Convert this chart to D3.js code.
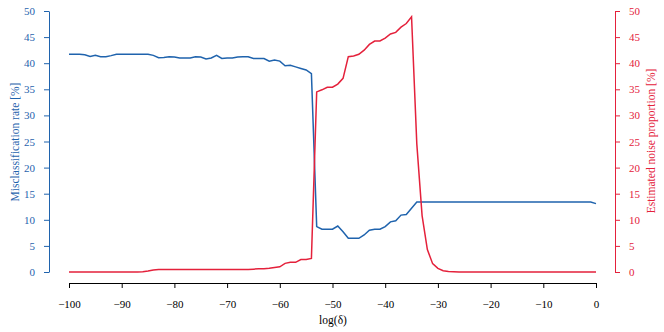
<!DOCTYPE html>
<html lang="en">
<head>
<meta charset="UTF-8">
<title>Misclassification vs noise</title>
<script src="https://d3js.org/d3.v7.min.js"></script>
<style>
	body { margin: 0; background: #fff; }
	svg text { font-family: "Liberation Serif", "DejaVu Serif", serif; }
</style>
</head>
<body>
<svg id="chart" width="664" height="332"></svg>
<script>
// x values: log(delta) from -100 to 0
const logDelta = d3.range(-100, 1, 1);

// misclassification rate [%], one value per logDelta
const misclassRate = [
	41.7, 41.7, 41.7, 41.6, 41.3, 41.5, 41.25, 41.25, 41.45, 41.7,
	41.7, 41.7, 41.7, 41.7, 41.7, 41.7, 41.5, 41.05, 41.1, 41.25,
	41.2, 41.0, 41.0, 41.0, 41.25, 41.2, 40.8, 41.0, 41.5, 40.9,
	41.0, 41.0, 41.2, 41.25, 41.25, 40.9, 40.9, 40.9, 40.4, 40.6,
	40.4, 39.5, 39.6, 39.3, 39.0, 38.7, 38.0, 8.7, 8.2, 8.2,
	8.2, 8.8, 7.7, 6.45, 6.45, 6.45, 7.1, 8.0, 8.2, 8.2,
	8.7, 9.6, 9.8, 10.9, 11.0, 12.2, 13.4, 13.4, 13.4, 13.4,
	13.4, 13.4, 13.4, 13.4, 13.4, 13.4, 13.4, 13.4, 13.4, 13.4,
	13.4, 13.4, 13.4, 13.4, 13.4, 13.4, 13.4, 13.4, 13.4, 13.4,
	13.4, 13.4, 13.4, 13.4, 13.4, 13.4, 13.4, 13.4, 13.4, 13.4,
	13.1
];

// estimated noise proportion [%]
const noiseProp = [
	0, 0, 0, 0, 0, 0, 0, 0, 0, 0,
	0, 0, 0, 0, 0.05, 0.2, 0.4, 0.5, 0.5, 0.5,
	0.5, 0.5, 0.5, 0.5, 0.5, 0.5, 0.5, 0.5, 0.5, 0.5,
	0.5, 0.5, 0.5, 0.5, 0.5, 0.55, 0.6, 0.6, 0.7, 0.85,
	1.0, 1.65, 1.85, 1.85, 2.4, 2.4, 2.6, 34.5, 34.9, 35.4,
	35.4, 36.0, 37.1, 41.25, 41.4, 41.7, 42.5, 43.6, 44.25, 44.25,
	44.8, 45.6, 45.9, 46.9, 47.6, 48.9, 24.5, 10.8, 4.3, 1.6,
	0.7, 0.25, 0.1, 0.05, 0, 0, 0, 0, 0, 0,
	0, 0, 0, 0, 0, 0, 0, 0, 0, 0,
	0, 0, 0, 0, 0, 0, 0, 0, 0, 0,
	0
];

const xTicks = [-100, -90, -80, -70, -60, -50, -40, -30, -20, -10, 0];
const yTicks = [0, 5, 10, 15, 20, 25, 30, 35, 40, 45, 50];

const blue = "#1f63ad";
const red = "#e4213b";

const svg = d3.select("#chart");

const x = d3.scaleLinear().domain([-100, 0]).range([69, 596]);
const yL = d3.scaleLinear().domain([0, 50]).range([272, 11]);
const yR = d3.scaleLinear().domain([0, 50]).range([272, 11]);

const fmt = d => d < 0 ? "\u2212" + Math.abs(d) : String(d);

// x axis
const gx = svg.append("g")
	.attr("transform", "translate(0,283)")
	.call(d3.axisBottom(x).tickValues(xTicks).tickSize(5).tickSizeOuter(0).tickPadding(12).tickFormat(fmt));
gx.select(".domain").attr("stroke", "#000");
gx.selectAll("text").attr("font-size", 11).attr("fill", "#000").attr("font-family", "Liberation Serif, serif");

// left axis
const gl = svg.append("g")
	.attr("transform", "translate(49,0)")
	.call(d3.axisLeft(yL).tickValues(yTicks).tickSize(5).tickSizeOuter(0).tickPadding(9));
gl.selectAll("path, line").attr("stroke", blue);
gl.selectAll("text").attr("font-size", 11).attr("fill", blue).attr("font-family", "Liberation Serif, serif");

// right axis
const gr = svg.append("g")
	.attr("transform", "translate(615,0)")
	.call(d3.axisRight(yR).tickValues(yTicks).tickSize(5).tickSizeOuter(0).tickPadding(9));
gr.selectAll("path, line").attr("stroke", red);
gr.selectAll("text").attr("font-size", 11).attr("fill", red).attr("font-family", "Liberation Serif, serif")
	.attr("text-anchor", "start");

// axis titles
svg.append("text")
	.attr("transform", "translate(19,142) rotate(-90)")
	.attr("text-anchor", "middle")
	.attr("font-size", 11.5)
	.attr("fill", blue)
	.text("Misclassification rate [%]");

svg.append("text")
	.attr("transform", "translate(655,141) rotate(-90)")
	.attr("text-anchor", "middle")
	.attr("font-size", 11.5)
	.attr("fill", red)
	.text("Estimated noise proportion [%]");

svg.append("text")
	.attr("x", 333)
	.attr("y", 324)
	.attr("text-anchor", "middle")
	.attr("font-size", 11.5)
	.attr("fill", "#000")
	.text("log(\u03b4)");

// lines
const lineL = d3.line().x((d, i) => x(logDelta[i])).y(d => yL(d));
const lineR = d3.line().x((d, i) => x(logDelta[i])).y(d => yR(d));

svg.append("path")
	.datum(misclassRate)
	.attr("fill", "none")
	.attr("stroke", blue)
	.attr("stroke-width", 1.5)
	.attr("d", lineL);

svg.append("path")
	.datum(noiseProp)
	.attr("fill", "none")
	.attr("stroke", red)
	.attr("stroke-width", 1.5)
	.attr("d", lineR);
</script>
</body>
</html>
